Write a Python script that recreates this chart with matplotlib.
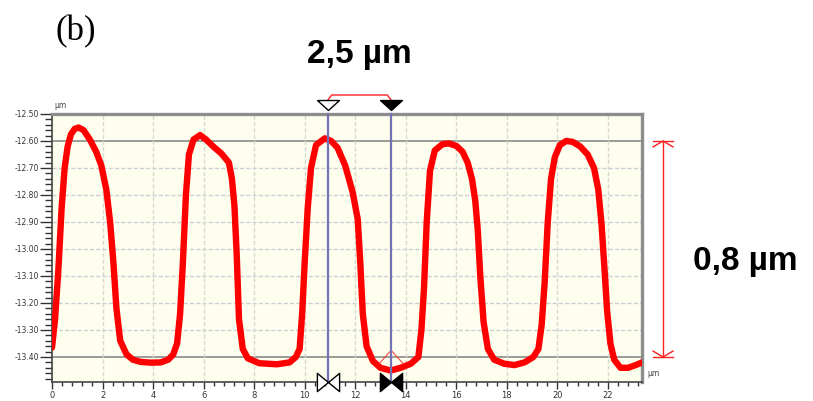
import matplotlib
matplotlib.use("Agg")
import matplotlib.pyplot as plt
from matplotlib.ticker import MultipleLocator, FixedLocator, FuncFormatter
import matplotlib.transforms as mtransforms

# ---------------- data ----------------
profile_x = [0.00, 0.12, 0.25, 0.38, 0.50, 0.62, 0.75, 0.90, 1.05, 1.25, 1.50, 1.75, 1.95, 2.15, 2.30,
             2.43, 2.55, 2.70, 2.95, 3.20, 3.50, 3.90, 4.30, 4.60, 4.80, 4.95, 5.07, 5.18, 5.30, 5.42,
             5.60, 5.86, 6.10, 6.40, 6.70, 7.00, 7.12, 7.22, 7.31, 7.40, 7.55, 7.75, 8.20, 8.90, 9.40,
             9.65, 9.80, 9.90, 10.00, 10.12, 10.25, 10.45, 10.80, 11.05, 11.30, 11.60, 11.90, 12.10,
             12.20, 12.30, 12.45, 12.70, 13.00, 13.40, 13.80, 14.20, 14.50, 14.62, 14.72, 14.83, 14.96,
             15.15, 15.45, 15.70, 16.00, 16.25, 16.45, 16.62, 16.75, 16.85, 16.95, 17.08, 17.25, 17.50,
             17.90, 18.30, 18.70, 19.05, 19.25, 19.38, 19.50, 19.62, 19.75, 19.90, 20.10, 20.35, 20.60,
             20.90, 21.20, 21.45, 21.62, 21.75, 21.87, 21.97, 22.10, 22.25, 22.50, 22.80, 23.10, 23.35]
profile_y = [-13.365, -13.26, -13.08, -12.85, -12.70, -12.62, -12.575, -12.555, -12.550, -12.56, -12.595,
             -12.64, -12.69, -12.78, -12.90, -13.05, -13.22, -13.34, -13.39, -13.41, -13.418, -13.421,
             -13.42, -13.41, -13.39, -13.35, -13.24, -13.05, -12.80, -12.65, -12.595, -12.578, -12.595,
             -12.622, -12.646, -12.68, -12.74, -12.84, -13.02, -13.26, -13.37, -13.405, -13.423, -13.427,
             -13.42, -13.40, -13.37, -13.24, -13.05, -12.85, -12.70, -12.615, -12.59, -12.60, -12.625,
             -12.69, -12.79, -12.89, -13.05, -13.24, -13.36, -13.415, -13.44, -13.45, -13.44, -13.425,
             -13.40, -13.30, -13.15, -12.90, -12.71, -12.635, -12.612, -12.609, -12.618, -12.64, -12.68,
             -12.74, -12.82, -12.93, -13.10, -13.27, -13.37, -13.41, -13.425, -13.43, -13.42, -13.40,
             -13.37, -13.28, -13.12, -12.90, -12.74, -12.66, -12.615, -12.600, -12.603, -12.620, -12.650,
             -12.70, -12.78, -12.91, -13.08, -13.23, -13.35, -13.41, -13.44, -13.44, -13.43, -13.42]

raw_tent_x = [12.95, 13.42, 13.90]
raw_tent_y = [-13.425, -13.375, -13.425]

cursor_x = [10.92, 13.42]          # measurement cursors (um)
level_top, level_bottom = -12.60, -13.40
y_major = [-12.50, -12.60, -12.70, -12.80, -12.90, -13.00, -13.10, -13.20, -13.30, -13.40]
x_major = [0, 2, 4, 6, 8, 10, 12, 14, 16, 18, 20, 22]
label_panel = "(b)"
label_width = "2,5 µm"
label_height = "0,8 µm"
unit = "µm"

# ---------------- figure ----------------
W, H, DPI = 813, 401, 100
fig = plt.figure(figsize=(W / DPI, H / DPI), dpi=DPI)
fig.patch.set_facecolor("white")

L, R, T, B = 52, 642, 114, 382
ax = fig.add_axes([L / W, 1 - B / H, (R - L) / W, (B - T) / H])
ax.set_facecolor("#fefeee")
ax.set_xlim(0, 23.35)
ax.set_ylim(-13.4926, -12.50)

# grid
for yv in y_major:
    if yv in (level_top, level_bottom):
        ax.axhline(yv, color="#8a8a8a", lw=1.2, zorder=1)
    elif yv != -12.50:
        ax.axhline(yv, color="#cdcdd6", lw=1.0, ls=(0, (3, 1.5)), zorder=1)
for xv in x_major:
    if xv > 0:
        ax.axvline(xv, color="#d8d8d0", lw=1.0, ls=(0, (3, 1.5)), zorder=1)

# spines
for s in ("top", "right"):
    ax.spines[s].set_color("#8c8c8c")
    ax.spines[s].set_linewidth(2.4)
for s in ("left", "bottom"):
    ax.spines[s].set_color("#444444")
    ax.spines[s].set_linewidth(1.2)

# ticks
ax.yaxis.set_major_locator(FixedLocator(y_major))
ax.yaxis.set_minor_locator(MultipleLocator(0.02))
ax.xaxis.set_major_locator(FixedLocator(x_major))
ax.xaxis.set_minor_locator(MultipleLocator(0.4))
ax.yaxis.set_major_formatter(FuncFormatter(lambda v, p: f"{v:.2f}"))
ax.tick_params(axis="y", which="major", length=9, width=1.0, color="#333333",
               labelsize=5.5, labelcolor="#333333", pad=0.5)
ax.tick_params(axis="y", which="minor", length=5, width=1.0, color="#333333")
ax.tick_params(axis="x", which="major", length=5, width=1.0, color="#333333",
               labelsize=6, labelcolor="#333333", pad=1.5)
ax.tick_params(axis="x", which="minor", length=3, width=1.0, color="#333333")
for lab in ax.get_xticklabels() + ax.get_yticklabels():
    lab.set_fontfamily("DejaVu Sans")

# profile
ax.plot(profile_x, profile_y, color="#ff0000", lw=4.6, solid_capstyle="round",
        solid_joinstyle="round", zorder=4)
ax.plot(raw_tent_x, raw_tent_y, color="#ff3030", lw=0.7, zorder=4)

# cursors
blend = mtransforms.blended_transform_factory(ax.transData, ax.transAxes)
for cx in cursor_x:
    ax.plot([cx, cx], [0, 1.0], transform=blend, color="#7272b4", lw=1.6, zorder=5, clip_on=False)

tri_down = [(-1.1, 1.0), (1.1, 1.0), (0.0, 0.0), (-1.1, 1.0)]
tri_right = [(0.0, 0.0), (-1.95, -1.6), (-1.95, 1.6), (0.0, 0.0)]
tri_left = [(0.0, 0.0), (1.95, -1.6), (1.95, 1.6), (0.0, 0.0)]
top_y = 1 + 4 / (B - T)
for i, cx in enumerate(cursor_x):
    fc = "white" if i == 0 else "black"
    ax.plot([cx], [top_y], marker=tri_down, ms=15.8, mfc=fc, mec="black", mew=1.0,
            transform=blend, clip_on=False, zorder=7, ls="none")
    for mk in (tri_right, tri_left):
        ax.plot([cx], [0.0], marker=mk, ms=16, mfc=fc, mec="black", mew=1.0,
                transform=blend, clip_on=False, zorder=7, ls="none")

# red bracket above cursors
by = 1 + 19 / (B - T)
bh = 1 + 14 / (B - T)
ax.plot([cursor_x[0], cursor_x[0] + 0.15, cursor_x[1] - 0.15, cursor_x[1]],
        [bh, by, by, bh], transform=blend, color="#ff2020", lw=1.0, clip_on=False, zorder=6)

# height dimension line on the right
bl2 = mtransforms.blended_transform_factory(ax.transAxes, ax.transData)
dx = (663 - L) / (R - L)
cap = 10 / (R - L)
wing_dy = 0.022
ax.plot([dx, dx], [level_top, level_bottom], transform=bl2, color="#ff2020", lw=1.0, clip_on=False)
for lv, sgn in ((level_top, -1), (level_bottom, 1)):
    ax.plot([dx - cap, dx + cap], [lv, lv], transform=bl2, color="#ff2020", lw=1.0, clip_on=False)
    ax.plot([dx - cap, dx, dx + cap], [lv + sgn * wing_dy, lv, lv + sgn * wing_dy],
            transform=bl2, color="#ff2020", lw=1.0, clip_on=False)

# small unit labels
fig.text(54 / W, 1 - 106 / H, unit, fontsize=5.5, color="#444444", ha="left", va="center")
fig.text(647 / W, 1 - 374 / H, unit, fontsize=5.5, color="#444444", ha="left", va="center")

# big labels
fig.text(76 / W, 1 - 32 / H, label_panel, fontsize=25, family="Liberation Serif",
         ha="center", va="center", color="black")
fig.text(307 / W, 1 - 63 / H, label_width, fontsize=24, family="Liberation Sans",
         weight="bold", ha="left", va="baseline", color="black")
fig.text(693 / W, 1 - 270 / H, label_height, fontsize=24, family="Liberation Sans",
         weight="bold", ha="left", va="baseline", color="black")

fig.savefig("out.png", dpi=DPI)
